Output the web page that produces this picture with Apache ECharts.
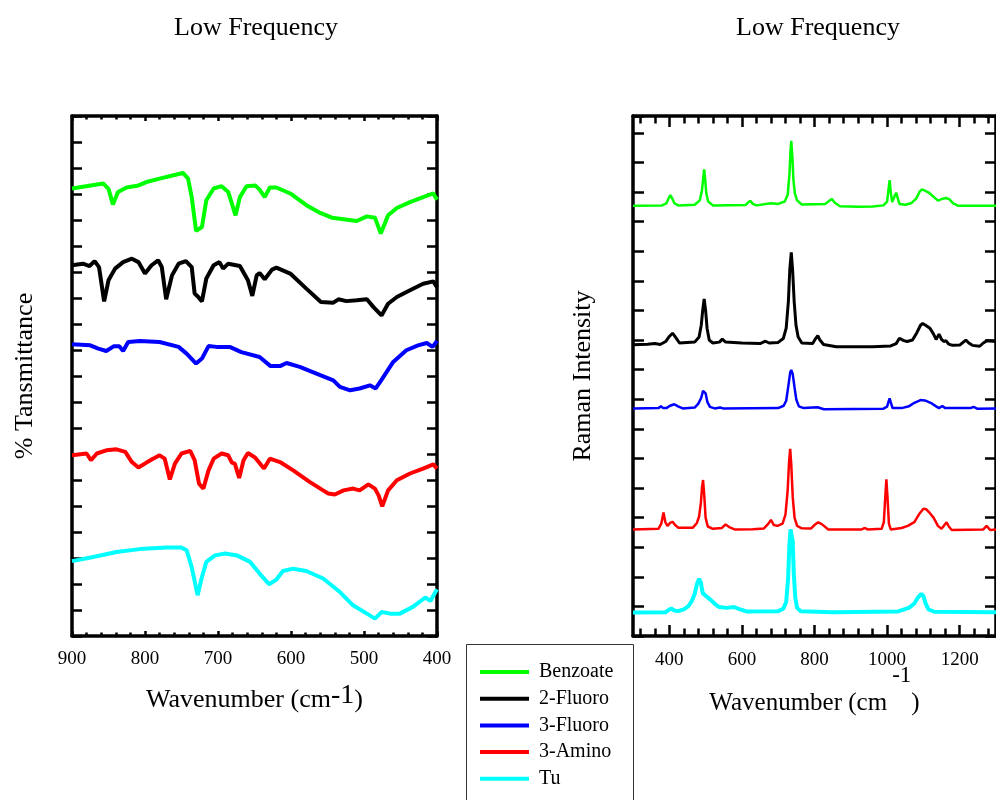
<!DOCTYPE html>
<html>
<head>
<meta charset="utf-8">
<script src="https://cdn.jsdelivr.net/npm/echarts@6/dist/echarts.min.js"></script>
<style>html,body{margin:0;padding:0;background:#fff}#c{width:996px;height:800px}</style>
</head>
<body>
<div id="c"></div>
<script>
// ---- Data ----
const seriesNames = ['Benzoate', '2-Fluoro', '3-Fluoro', '3-Amino', 'Tu'];
const seriesColors = ['#00ff00', '#000000', '#0000ff', '#ff0000', '#00ffff'];

// Left panel: IR, [wavenumber, offset % transmittance]
const irBenzoate = [[900,17.21],[857,17.40],[850,17.20],[844,16.60],[837,17.08],[825,17.25],[809,17.33],[798,17.46],[780,17.59],[761,17.72],[748,17.81],[741,17.59],[736,16.88],[730,15.58],[722,15.73],[716,16.76],[706,17.21],[695,17.30],[686,17.08],[676,16.18],[670,16.88],[661,17.30],[649,17.33],[643,17.17],[636,16.88],[629,17.25],[620,17.25],[601,17.02],[579,16.57],[560,16.27],[544,16.09],[528,16.03],[510,15.96],[496,16.14],[485,16.09],[477,15.48],[467,16.18],[455,16.46],[437,16.69],[419,16.88],[405,17.02],[400,16.78]];
const ir2Fluoro = [[900,14.26],[885,14.32],[876,14.23],[869,14.42],[863,14.19],[856,12.87],[850,13.68],[841,14.13],[830,14.38],[818,14.51],[809,14.38],[800,13.94],[791,14.26],[782,14.45],[777,14.19],[771,12.95],[763,13.87],[754,14.32],[744,14.42],[736,14.19],[732,13.17],[727,13.04],[722,12.87],[716,13.75],[706,14.26],[698,14.38],[693,14.13],[686,14.32],[670,14.23],[659,13.68],[653,13.08],[647,13.87],[643,13.96],[636,13.72],[626,14.09],[620,14.17],[601,13.94],[579,13.36],[559,12.85],[542,12.82],[535,12.95],[524,12.88],[510,12.91],[496,12.95],[487,12.65],[476,12.33],[467,12.78],[455,13.04],[437,13.30],[419,13.55],[405,13.64],[400,13.42]];
const ir3Fluoro = [[900,11.22],[875,11.18],[864,11.05],[853,10.96],[843,11.14],[835,11.14],[830,10.96],[823,11.31],[807,11.35],[780,11.31],[754,11.12],[743,10.86],[730,10.48],[722,10.67],[713,11.15],[702,11.12],[684,11.12],[668,10.92],[643,10.73],[628,10.38],[615,10.38],[606,10.50],[588,10.35],[560,10.03],[542,9.83],[533,9.58],[519,9.45],[506,9.52],[492,9.64],[484,9.52],[476,9.85],[460,10.54],[442,10.99],[426,11.18],[414,11.27],[406,11.12],[400,11.35]];
const ir3Amino = [[900,6.95],[880,7.02],[874,6.76],[866,7.02],[853,7.14],[839,7.18],[827,7.08],[818,6.69],[809,6.48],[798,6.67],[789,6.82],[780,6.95],[773,6.82],[766,6.02],[759,6.63],[750,7.02],[738,7.12],[732,6.76],[726,5.86],[720,5.67],[713,6.37],[706,6.82],[695,7.02],[686,6.95],[681,6.67],[677,6.63],[671,6.08],[665,6.76],[659,7.04],[649,6.86],[637,6.44],[629,6.82],[615,6.69],[597,6.37],[574,5.92],[556,5.60],[549,5.48],[540,5.44],[528,5.60],[515,5.67],[506,5.60],[494,5.83],[485,5.67],[480,5.41],[475,4.99],[467,5.60],[455,5.99],[437,6.25],[419,6.44],[405,6.60],[400,6.44]];
const irTu = [[900,2.88],[871,3.04],[839,3.23],[802,3.36],[770,3.40],[750,3.40],[743,3.30],[736,2.65],[728,1.57],[722,2.27],[716,2.85],[704,3.10],[690,3.17],[674,3.10],[656,2.85],[643,2.40],[630,1.99],[620,2.17],[611,2.50],[597,2.59],[579,2.50],[556,2.21],[533,1.69],[515,1.18],[496,0.86],[485,0.67],[476,0.92],[464,0.86],[451,0.86],[433,1.12],[416,1.48],[409,1.35],[400,1.80]];

// Right panel: Raman, [wavenumber, offset intensity]
const ramanBenzoate = [[300,14.54],[380,14.55],[392,14.62],[398,14.78],[403,14.9],[408,14.78],[414,14.62],[425,14.55],[470,14.57],[484,14.72],[490,15.05],[494,15.55],[496,15.77],[499,15.4],[502,14.95],[507,14.68],[520,14.55],[610,14.56],[618,14.66],[624,14.7],[630,14.6],[640,14.55],[680,14.62],[700,14.6],[718,14.68],[726,14.9],[731,15.6],[734,16.4],[736,16.73],[739,16.2],[742,15.4],[746,14.95],[752,14.72],[765,14.58],[830,14.6],[842,14.72],[848,14.76],[856,14.64],[870,14.52],[920,14.5],[960,14.51],[990,14.55],[1000,14.68],[1004,15.1],[1007,15.4],[1010,15.0],[1014,14.66],[1018,14.7],[1022,14.9],[1025,14.98],[1029,14.8],[1034,14.6],[1050,14.57],[1066,14.62],[1080,14.78],[1090,15.02],[1096,15.09],[1104,15.05],[1116,14.97],[1130,14.82],[1140,14.71],[1150,14.76],[1162,14.8],[1172,14.75],[1182,14.62],[1195,14.54],[1300,14.54]];
const raman2Fluoro = [[300,9.84],[340,9.86],[360,9.88],[375,9.85],[390,9.95],[400,10.12],[409,10.23],[418,10.08],[428,9.9],[470,9.93],[482,10.1],[488,10.5],[492,11.0],[496,11.39],[500,11.0],[504,10.4],[510,10.0],[520,9.9],[538,9.93],[546,10.03],[555,9.93],[600,9.9],[650,9.88],[665,9.96],[675,9.9],[700,9.92],[714,10.05],[722,10.4],[728,11.3],[732,12.4],[736,12.96],[740,12.3],[744,11.3],[749,10.5],[755,10.1],[765,9.9],[795,9.88],[803,10.05],[809,10.15],[815,10.0],[825,9.85],[860,9.77],[960,9.77],[1010,9.8],[1025,9.88],[1034,10.06],[1039,10.11],[1046,9.98],[1055,9.95],[1070,10.0],[1082,10.25],[1092,10.5],[1098,10.56],[1106,10.5],[1118,10.4],[1128,10.2],[1135,10.02],[1143,10.2],[1150,10.02],[1156,9.95],[1162,9.98],[1170,9.86],[1180,9.82],[1200,9.83],[1210,9.93],[1217,10.0],[1225,9.9],[1235,9.82],[1255,9.79],[1265,9.9],[1275,9.98],[1292,9.96],[1300,9.95]];
const raman3Fluoro = [[300,7.69],[370,7.7],[377,7.76],[383,7.7],[392,7.7],[402,7.78],[414,7.83],[424,7.76],[437,7.69],[470,7.72],[480,7.85],[488,8.05],[493,8.28],[496,8.33],[500,8.2],[505,7.9],[512,7.74],[525,7.69],[540,7.72],[548,7.69],[700,7.7],[715,7.78],[722,7.95],[728,8.45],[733,8.9],[736,8.99],[740,8.85],[745,8.4],[750,7.98],[757,7.76],[770,7.7],[808,7.73],[826,7.66],[990,7.68],[1000,7.75],[1004,7.92],[1007,8.03],[1010,7.9],[1015,7.7],[1040,7.7],[1060,7.76],[1075,7.88],[1092,7.97],[1104,7.96],[1120,7.88],[1135,7.76],[1143,7.7],[1152,7.77],[1160,7.7],[1230,7.7],[1238,7.74],[1248,7.68],[1300,7.69]];
const raman3Amino = [[300,3.6],[370,3.62],[378,3.8],[384,4.17],[389,3.85],[395,3.72],[402,3.82],[409,3.86],[416,3.75],[425,3.66],[465,3.66],[476,3.82],[482,4.03],[487,4.5],[490,5.0],[493,5.27],[496,4.8],[500,4.0],[506,3.7],[520,3.62],[545,3.65],[555,3.77],[565,3.68],[580,3.6],[630,3.61],[660,3.63],[672,3.78],[680,3.92],[688,3.75],[698,3.72],[712,3.8],[720,4.1],[726,4.9],[730,5.9],[733,6.32],[736,5.8],[740,4.7],[745,4.0],[752,3.72],[765,3.64],[790,3.63],[800,3.75],[810,3.84],[820,3.78],[838,3.6],[930,3.6],[939,3.65],[946,3.6],[985,3.62],[991,3.85],[995,4.7],[998,5.29],[1001,4.7],[1005,3.8],[1010,3.6],[1040,3.65],[1057,3.72],[1075,3.85],[1090,4.15],[1100,4.3],[1108,4.28],[1118,4.15],[1128,4.0],[1140,3.72],[1150,3.62],[1158,3.75],[1164,3.84],[1170,3.7],[1178,3.58],[1265,3.6],[1274,3.72],[1284,3.58],[1300,3.6]];
const ramanTu = [[300,0.79],[390,0.8],[398,0.88],[405,0.93],[414,0.86],[424,0.84],[440,0.9],[452,1.0],[462,1.18],[470,1.42],[476,1.75],[482,1.93],[487,1.8],[492,1.45],[500,1.36],[514,1.22],[526,1.08],[537,0.98],[558,0.95],[578,0.98],[595,0.9],[612,0.83],[700,0.84],[714,0.92],[722,1.15],[727,1.9],[731,3.1],[734,3.6],[737,3.66],[740,3.2],[743,2.1],[747,1.3],[752,0.95],[762,0.84],[850,0.8],[1030,0.83],[1060,0.95],[1075,1.1],[1085,1.3],[1094,1.42],[1100,1.35],[1106,1.1],[1114,0.9],[1130,0.82],[1300,0.8]];

// Tick values
const ramanXLabels = [400, 600, 800, 1000, 1200];
const ramanXMinor = [320,360,440,480,520,560,640,680,720,760,840,880,920,960,1040,1080,1120,1160,1240,1280];

const irData = [irBenzoate, ir2Fluoro, ir3Fluoro, ir3Amino, irTu];
const ramanData = [ramanBenzoate, raman2Fluoro, raman3Fluoro, raman3Amino, ramanTu];
const ramanWidths = [2.5, 3, 2.5, 2.5, 4];

// ---- Chart ----
const FONT = 'Liberation Serif';
const chart = echarts.init(document.getElementById('c'), null, {renderer: 'canvas'});

const axisLine = {show: true, onZero: false, lineStyle: {color: '#000', width: 3.5}};
function tick(len, extra) { return Object.assign({show: true, inside: true, length: len, lineStyle: {color: '#000', width: 2.5}}, extra || {}); }
const labelStyle = {color: '#000', fontFamily: FONT, fontSize: 19, formatter: v => String(v)};
const minorTickStyle = {show: true, splitNumber: 5, length: 3.5, lineStyle: {color: '#000', width: 2.5}};

const xAxes = [
  // 0: left bottom
  {gridIndex: 0, type: 'value', min: 400, max: 900, interval: 100, inverse: true, position: 'bottom',
   axisLine, axisTick: tick(5), minorTick: minorTickStyle,
   splitLine: {show: false}, minorSplitLine: {show: false},
   axisLabel: Object.assign({margin: 14, showMinLabel: true, showMaxLabel: true}, labelStyle),
   name: '{a|Wavenumber (cm}{b|-1}{a|)}', nameLocation: 'middle', nameGap: 45, nameMoveOverlap: false,
   nameTextStyle: {rich: {a: {fontFamily: FONT, fontSize: 26, color: '#000', verticalAlign: 'bottom', lineHeight: 32},
                          b: {fontFamily: FONT, fontSize: 28, color: '#000', verticalAlign: 'bottom', lineHeight: 32, padding: [0, 0, 3, 0]}}}},
  // 1: left top
  {gridIndex: 0, type: 'value', min: 400, max: 900, interval: 100, inverse: true, position: 'top',
   axisLine, axisTick: tick(5), minorTick: minorTickStyle,
   splitLine: {show: false}, axisLabel: {show: false}},
  // 2: right bottom major
  {gridIndex: 1, type: 'value', min: 300, max: 1300, position: 'bottom',
   axisLine, axisTick: tick(11, {customValues: ramanXLabels}), splitLine: {show: false},
   axisLabel: Object.assign({margin: 15, customValues: ramanXLabels}, labelStyle),
   name: '{a|Wavenumber (cm}{b|-1}{a|)}', nameLocation: 'middle', nameGap: 28, nameMoveOverlap: false,
   nameTextStyle: {rich: {a: {fontFamily: FONT, fontSize: 25, color: '#000', verticalAlign: 'bottom', lineHeight: 52},
                          b: {fontFamily: FONT, fontSize: 23, color: '#000', verticalAlign: 'top', lineHeight: 52, padding: [0, 0, 0, 5]}}}},
  // 3: right top major
  {gridIndex: 1, type: 'value', min: 300, max: 1300, position: 'top',
   axisLine, axisTick: tick(11, {customValues: ramanXLabels}), splitLine: {show: false}, axisLabel: {show: false}},
  // 4: right bottom minor (overlay grid)
  {gridIndex: 2, type: 'value', min: 300, max: 1300, position: 'bottom',
   axisLine: {show: false, onZero: false}, axisTick: tick(7.5, {customValues: ramanXMinor}), splitLine: {show: false}, axisLabel: {show: false}},
  // 5: right top minor (overlay grid)
  {gridIndex: 2, type: 'value', min: 300, max: 1300, position: 'top',
   axisLine: {show: false, onZero: false}, axisTick: tick(7.5, {customValues: ramanXMinor}), splitLine: {show: false}, axisLabel: {show: false}}
];

const yAxes = [
  {gridIndex: 0, type: 'value', min: 0, max: 20, interval: 1, position: 'left', axisLine, axisTick: tick(10),
   splitLine: {show: false}, axisLabel: {show: false},
   name: '% Tansmittance', nameLocation: 'middle', nameGap: 34,
   nameTextStyle: {fontFamily: FONT, fontSize: 26, color: '#000'}},
  {gridIndex: 0, type: 'value', min: 0, max: 20, interval: 1, position: 'right', axisLine, axisTick: tick(10),
   splitLine: {show: false}, axisLabel: {show: false}},
  {gridIndex: 1, type: 'value', min: 0, max: 17.57, interval: 1, position: 'left', axisLine, axisTick: tick(11),
   splitLine: {show: false}, axisLabel: {show: false},
   name: 'Raman Intensity', nameLocation: 'middle', nameGap: 37,
   nameTextStyle: {fontFamily: FONT, fontSize: 26, color: '#000'}},
  {gridIndex: 1, type: 'value', min: 0, max: 17.57, interval: 1, position: 'right', axisLine, axisTick: tick(11),
   splitLine: {show: false}, axisLabel: {show: false}},
  {gridIndex: 2, type: 'value', min: 0, max: 1, show: false}
];

const series = [];
seriesNames.forEach((n, i) => {
  series.push({name: n, type: 'line', xAxisIndex: 0, yAxisIndex: 0, data: irData[i], showSymbol: false, symbol: 'none',
    lineStyle: {color: seriesColors[i], width: 4}, itemStyle: {color: seriesColors[i]}, z: 2});
});
seriesNames.forEach((n, i) => {
  series.push({name: n, type: 'line', xAxisIndex: 2, yAxisIndex: 2, data: ramanData[i], showSymbol: false, symbol: 'none',
    lineStyle: {color: seriesColors[i], width: ramanWidths[i]}, itemStyle: {color: seriesColors[i]}, z: 2});
});

chart.setOption({
  animation: false,
  backgroundColor: '#fff',
  title: [
    {text: 'Low Frequency', left: 251, top: 10, textAlign: 'center', textStyle: {fontFamily: FONT, fontSize: 26, fontWeight: 'normal', color: '#000'}},
    {text: 'Low Frequency', left: 813, top: 10, textAlign: 'center', textStyle: {fontFamily: FONT, fontSize: 26, fontWeight: 'normal', color: '#000'}}
  ],
  grid: [
    {left: 72, top: 116, width: 365, height: 520, containLabel: false},
    {left: 633, top: 116, width: 366, height: 520, containLabel: false},
    {left: 633, top: 116, width: 366, height: 520, containLabel: false}
  ],
  xAxis: xAxes,
  yAxis: yAxes,
  legend: {
    data: seriesNames, orient: 'vertical', left: 480, top: 662, padding: 0,
    icon: 'rect', itemWidth: 49, itemHeight: 4, itemGap: 6.7,
    textStyle: {fontFamily: FONT, fontSize: 20, color: '#000', lineHeight: 20, padding: [0, 0, 0, 5]},
    selectedMode: false
  },
  graphic: [
    {type: 'rect', silent: true, z: 10,
     shape: {x: 466.5, y: 644.5, width: 167, height: 170}, style: {fill: 'none', stroke: '#333', lineWidth: 1}}
  ],
  series
});
</script>
</body>
</html>
